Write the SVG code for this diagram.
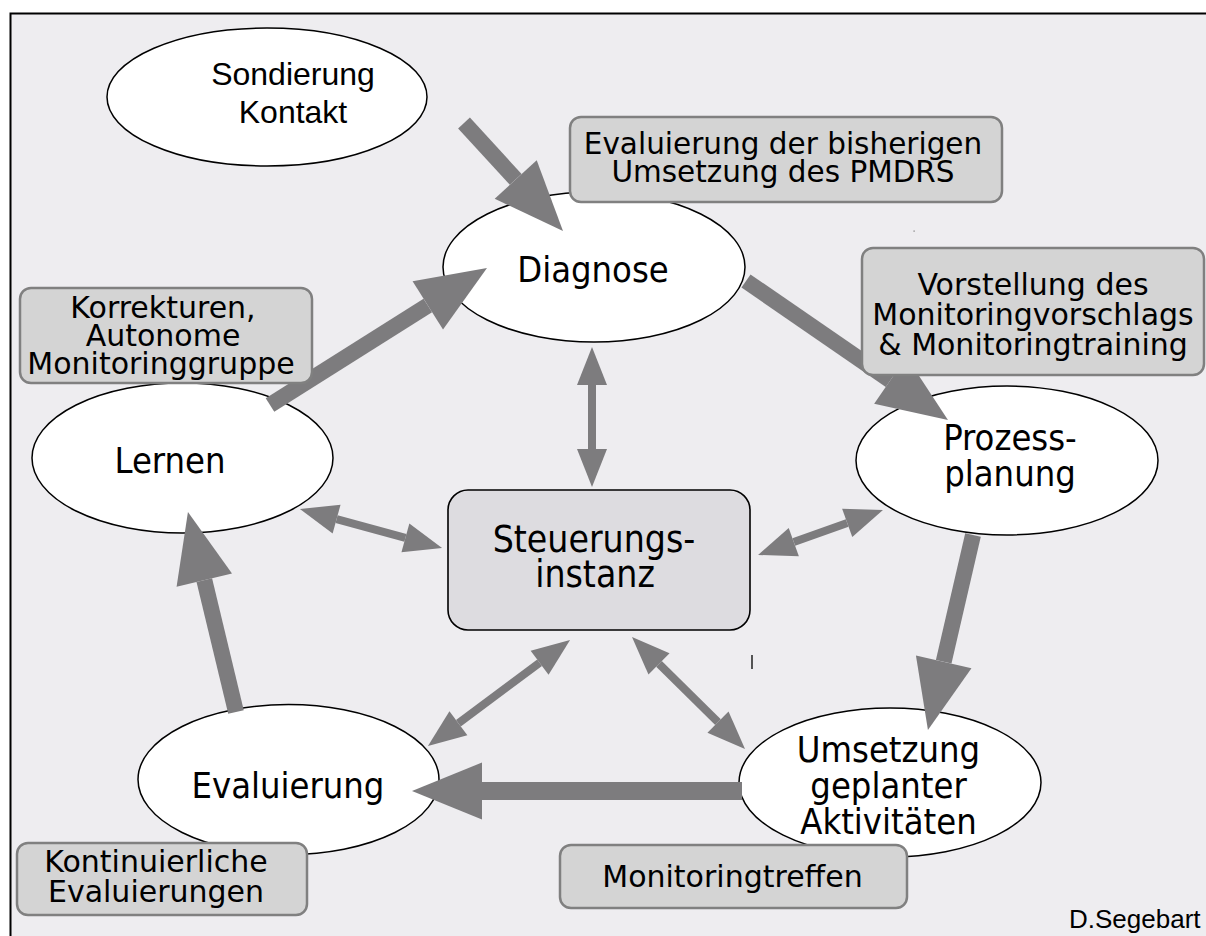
<svg xmlns="http://www.w3.org/2000/svg" width="1206" height="936" viewBox="0 0 1206 936">
<style>
.ell{fill:#ffffff;stroke:#000000;stroke-width:1.5}
.lbl{fill:#d4d4d4;stroke:#808080;stroke-width:2.5}
.ctr{fill:#dddce0;stroke:#000000;stroke-width:1.6}
.et{font-family:"DejaVu Sans Condensed","DejaVu Sans",sans-serif;font-size:36px;fill:#000;text-anchor:middle}
.ct{font-family:"DejaVu Sans Condensed","DejaVu Sans",sans-serif;font-size:37px;fill:#000;text-anchor:middle}
.bt{font-family:"DejaVu Sans",Verdana,sans-serif;font-size:30px;fill:#000;text-anchor:middle}
.bs{font-family:"DejaVu Sans",Verdana,sans-serif;font-size:29.5px;fill:#000;text-anchor:middle}
.at{font-family:"Liberation Sans",Arial,sans-serif;font-size:32px;fill:#000;text-anchor:middle}
.sig{font-family:"Liberation Sans",Arial,sans-serif;font-size:26px;fill:#000}
.thick{stroke:#7d7c7e;stroke-width:16;fill:none;marker-end:url(#big)}
.thin{stroke:#7d7c7e;stroke-width:8;fill:none;marker-start:url(#small);marker-end:url(#small)}
</style>
<defs>
<marker id="big" markerUnits="userSpaceOnUse" orient="auto" refX="0" refY="0" markerWidth="80" markerHeight="60" overflow="visible">
<path d="M0,-28.5 L70,0 L0,28.5 Z" fill="#7d7c7e"/>
</marker>
<marker id="small" markerUnits="userSpaceOnUse" orient="auto-start-reverse" refX="0" refY="0" markerWidth="40" markerHeight="32" overflow="visible">
<path d="M0,-15 L38,0 L0,15 Z" fill="#7d7c7e"/>
</marker>
</defs>
<rect x="0" y="0" width="1206" height="936" fill="#ffffff"/>
<rect x="10.5" y="13.5" width="1300" height="1000" fill="#eeedf0" stroke="#000000" stroke-width="2"/>

<g id="sondierung">
<ellipse class="ell" cx="267" cy="97" rx="160" ry="69"/>
<text class="at" x="293" y="85">Sondierung</text>
<text class="at" x="293" y="123">Kontakt</text>
</g>
<g id="diagnose">
<ellipse class="ell" cx="594" cy="267" rx="151" ry="75"/>
<text class="et" x="593" y="282">Diagnose</text>
</g>
<g id="lernen">
<ellipse class="ell" cx="182.5" cy="458" rx="150.5" ry="75"/>
<text class="et" x="170" y="473">Lernen</text>
</g>
<g id="prozessplanung">
<ellipse class="ell" cx="1007" cy="460.5" rx="151" ry="74.5"/>
<text class="et" x="1010" y="450">Prozess-</text>
<text class="et" x="1010" y="486">planung</text>
</g>
<g id="umsetzung">
<ellipse class="ell" cx="890" cy="782.5" rx="151" ry="74.5"/>
<text class="et" x="888.5" y="762">Umsetzung</text>
<text class="et" x="888.5" y="798">geplanter</text>
<text class="et" x="888.5" y="834">Aktivitäten</text>
</g>
<g id="evaluierung">
<ellipse class="ell" cx="288.5" cy="779.5" rx="150.5" ry="75"/>
<text class="et" x="288" y="798">Evaluierung</text>
</g>
<g id="steuerungsinstanz">
<rect class="ctr" x="448" y="490" width="302" height="140" rx="20" ry="20"/>
<text class="ct" x="594" y="552">Steuerungs-</text>
<text class="ct" x="595" y="587">instanz</text>
</g>

<g id="connectors">
<line class="thick" x1="464" y1="123" x2="515.7" y2="179.4"/>
<line class="thick" x1="270" y1="405" x2="427.8" y2="305.4"/>
<line class="thick" x1="746" y1="281" x2="890.3" y2="380.3"/>
<line class="thick" x1="973" y1="535" x2="943.7" y2="661.8"/>
<line class="thick" x1="742" y1="791" x2="482" y2="791" style="stroke-width:18"/>
<line class="thick" x1="236" y1="712" x2="204.3" y2="580.1"/>
<line class="thin" x1="592" y1="385" x2="592" y2="449"/>
<line class="thin" x1="336.6" y1="519.1" x2="405.4" y2="537.9"/>
<line class="thin" x1="793.8" y1="542.1" x2="847.2" y2="522.9"/>
<line class="thin" x1="539.6" y1="662.7" x2="458.4" y2="723.3"/>
<line class="thin" x1="659" y1="663.8" x2="718" y2="722.2"/>
</g>

<g id="box-evaluierung-pmdrs">
<rect class="lbl" x="570" y="117" width="432" height="85" rx="11" ry="11"/>
<text class="bs" x="783" y="154">Evaluierung der bisherigen</text>
<text class="bs" x="783" y="182">Umsetzung des PMDRS</text>
</g>
<g id="box-vorstellung">
<rect class="lbl" x="862" y="248" width="342" height="127" rx="11" ry="11"/>
<text class="bt" x="1033" y="295">Vorstellung des</text>
<text class="bt" x="1033" y="325">Monitoringvorschlags</text>
<text class="bt" x="1033" y="355">&amp; Monitoringtraining</text>
</g>
<g id="box-korrekturen">
<rect class="lbl" x="20" y="288" width="292" height="95" rx="11" ry="11"/>
<text class="bt" x="163" y="318">Korrekturen,</text>
<text class="bt" x="163" y="346">Autonome</text>
<text class="bt" x="161" y="374">Monitoringgruppe</text>
</g>
<g id="box-kontinuierliche">
<rect class="lbl" x="17" y="843" width="290" height="72" rx="11" ry="11"/>
<text class="bt" x="156" y="872">Kontinuierliche</text>
<text class="bt" x="156" y="902">Evaluierungen</text>
</g>
<g id="box-monitoringtreffen">
<rect class="lbl" x="560" y="845" width="347" height="63" rx="11" ry="11"/>
<text class="bt" x="732.5" y="887">Monitoringtreffen</text>
</g>

<line x1="752" y1="655" x2="752" y2="669" stroke="#000" stroke-width="1.3"/>
<rect x="913.5" y="230.5" width="1.2" height="1.2" fill="#777"/>
<text class="sig" x="1069" y="928">D.Segebart</text>
</svg>
